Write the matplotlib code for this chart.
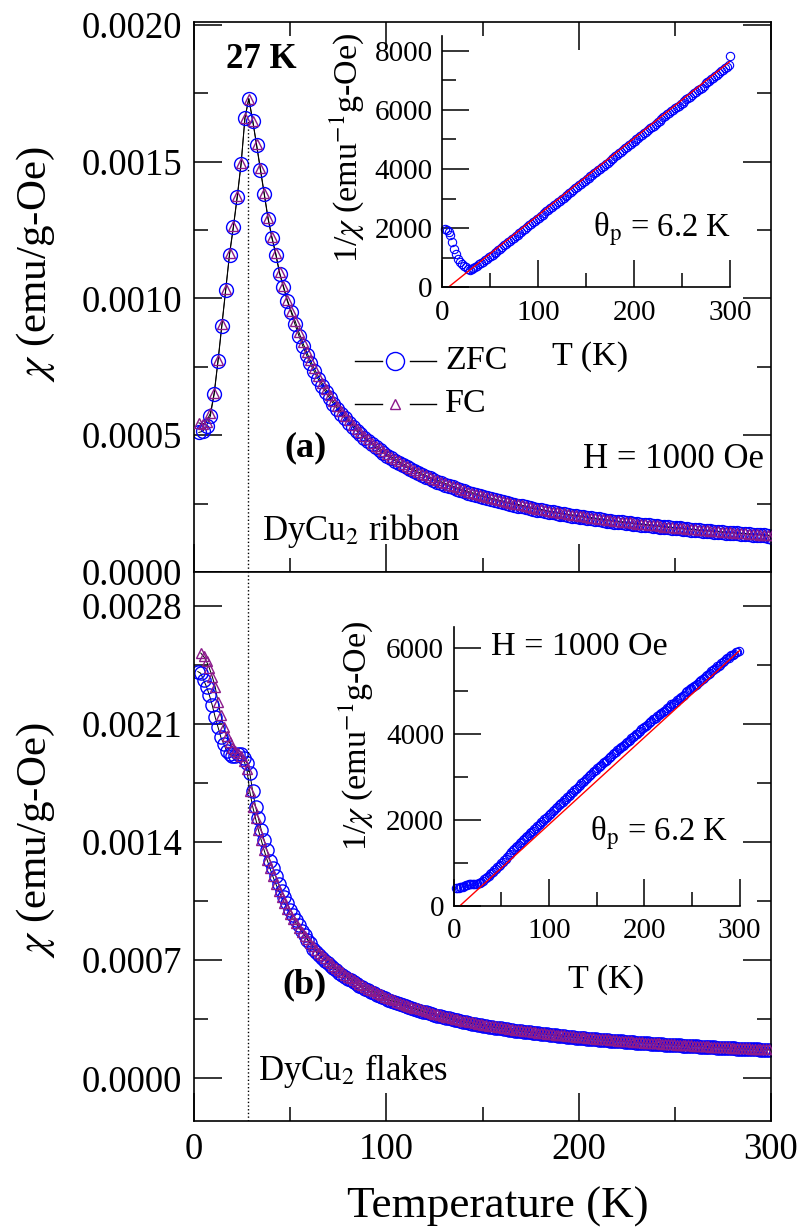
import numpy as np
import matplotlib
matplotlib.use("Agg")
import matplotlib.pyplot as plt
from matplotlib.lines import Line2D
from matplotlib.ticker import MultipleLocator, FormatStrFormatter

plt.rcParams.update({
    "font.family": "Liberation Serif",
    "mathtext.fontset": "stix",
})

# ---------------- data (chi in units of 1e-4 emu/g-Oe) ----------------
# (a) ribbon, T = 2.5 ... 300.5 K, step 2 K
T_a = np.arange(2.5, 301.0, 2.0)
chi_zfc_a = [
    5.10, 5.14, 5.34, 5.70, 6.50, 7.70, 9.00, 10.30, 11.60, 12.60,
    13.70, 14.90, 16.60, 17.30, 16.50, 15.60, 14.70, 13.80, 12.90, 12.20,
    11.60, 10.90, 10.40, 9.90, 9.50,
    9.05, 8.64, 8.27, 7.93, 7.62, 7.33, 7.06, 6.81, 6.57, 6.36,
    6.15, 5.96, 5.78, 5.61, 5.46, 5.31, 5.16, 5.03, 4.90, 4.78,
    4.66, 4.55, 4.45, 4.35, 4.25, 4.16, 4.07, 3.99, 3.90, 3.83,
    3.75, 3.68, 3.61, 3.54, 3.48, 3.42, 3.36, 3.30, 3.25, 3.19,
    3.14, 3.09, 3.04, 2.99, 2.95, 2.90, 2.86, 2.82, 2.78, 2.74,
    2.70, 2.66, 2.63, 2.59, 2.56, 2.52, 2.49, 2.46, 2.43, 2.40,
    2.37, 2.34, 2.31, 2.28, 2.26, 2.23, 2.20, 2.18, 2.15, 2.13,
    2.11, 2.08, 2.06, 2.04, 2.02, 2.00, 1.98, 1.96, 1.94, 1.92,
    1.90, 1.88, 1.86, 1.84, 1.83, 1.81, 1.79, 1.78, 1.76, 1.74,
    1.73, 1.71, 1.70, 1.68, 1.67, 1.65, 1.64, 1.63, 1.61, 1.60,
    1.59, 1.57, 1.56, 1.55, 1.54, 1.52, 1.51, 1.50, 1.49, 1.48,
    1.47, 1.45, 1.44, 1.43, 1.42, 1.41, 1.40, 1.39, 1.38, 1.37,
    1.36, 1.35, 1.34, 1.33, 1.28,
]
chi_fc_a = [
    5.45, 5.40, 5.50, 5.80, 6.55, 7.75, 9.05, 10.35, 11.65, 12.65,
    13.75, 14.95, 16.60, 17.30, 16.50, 15.65, 14.75, 13.85, 12.95, 12.25,
    11.65, 10.95, 10.45, 9.95, 9.55,
    9.19, 8.77, 8.39, 8.05, 7.73, 7.44, 7.17, 6.91, 6.67, 6.46,
    6.24, 6.05, 5.87, 5.69, 5.54, 5.39, 5.24, 5.11, 4.97, 4.85,
    4.73, 4.62, 4.52, 4.42, 4.31, 4.22, 4.13, 4.05, 3.96, 3.89,
    3.81, 3.74, 3.66, 3.59, 3.53, 3.47, 3.41, 3.35, 3.30, 3.24,
    3.19, 3.14, 3.09, 3.03, 2.99, 2.94, 2.90, 2.86, 2.82, 2.78,
    2.74, 2.70, 2.67, 2.63, 2.60, 2.56, 2.53, 2.50, 2.47, 2.44,
    2.41, 2.38, 2.34, 2.31, 2.29, 2.26, 2.23, 2.21, 2.18, 2.16,
    2.14, 2.11, 2.09, 2.07, 2.05, 2.03, 2.01, 1.99, 1.97, 1.95,
    1.93, 1.91, 1.89, 1.87, 1.86, 1.84, 1.82, 1.81, 1.79, 1.77,
    1.76, 1.74, 1.73, 1.71, 1.70, 1.68, 1.66, 1.65, 1.63, 1.62,
    1.61, 1.59, 1.58, 1.57, 1.56, 1.54, 1.53, 1.52, 1.51, 1.50,
    1.49, 1.47, 1.46, 1.45, 1.44, 1.43, 1.42, 1.41, 1.40, 1.39,
    1.38, 1.37, 1.36, 1.35, 1.34,
]

# (b) flakes, ZFC T = 2.0 ... 299 K step 1.5 K ; FC T = 3.5 ... 299 K
T_zfc_b = np.arange(2.0, 299.5, 1.5)
T_fc_b = np.arange(3.5, 299.5, 1.5)
chi_zfc_b = [
    24.1, 24.0, 23.6, 23.2, 22.7, 22.1, 21.4, 20.8, 20.2, 19.8,
    19.4, 19.2, 19.1, 19.1, 19.2, 19.2, 19.0, 18.7, 18.1, 17.0,
    16.1, 15.4, 14.7, 14.1, 13.5,
    12.90, 12.45, 11.96, 11.50, 11.10, 10.72, 10.36, 10.00, 9.68, 9.36,
    9.07, 8.75, 8.48, 8.22, 7.99,
    7.66, 7.48, 7.30, 7.13,
    6.98, 6.82, 6.67, 6.54, 6.40, 6.26, 6.14, 6.03, 5.91, 5.80,
    5.69, 5.59, 5.49, 5.39, 5.30, 5.21, 5.13, 5.05, 4.96, 4.88,
    4.81, 4.73, 4.66, 4.60, 4.53, 4.46, 4.40, 4.33, 4.27, 4.21,
    4.17, 4.11, 4.06, 4.00, 3.95, 3.90, 3.85, 3.80, 3.75, 3.71,
    3.67, 3.63, 3.59, 3.55, 3.50, 3.46, 3.43, 3.39, 3.35, 3.31,
    3.28, 3.24, 3.21, 3.18, 3.15, 3.12, 3.09, 3.06, 3.04, 3.01,
    2.98, 2.96, 2.93, 2.90, 2.88, 2.86, 2.83, 2.81, 2.78, 2.76,
    2.74, 2.72, 2.70, 2.68, 2.66, 2.64, 2.62, 2.60, 2.58, 2.56,
    2.54, 2.52, 2.50, 2.49, 2.47, 2.45, 2.43, 2.41, 2.40, 2.38,
    2.37, 2.35, 2.33, 2.32, 2.30, 2.29, 2.28, 2.26, 2.25, 2.23,
    2.22, 2.21, 2.20, 2.19, 2.17, 2.16, 2.15, 2.13, 2.12, 2.11,
    2.10, 2.08, 2.07, 2.06, 2.05, 2.04, 2.03, 2.01, 2.00, 1.99,
    1.98, 1.97, 1.96, 1.95, 1.94, 1.93, 1.92, 1.91, 1.90, 1.89,
    1.88, 1.87, 1.86, 1.85, 1.84, 1.83, 1.82, 1.81, 1.80, 1.79,
    1.79, 1.78, 1.77, 1.76, 1.75, 1.74, 1.73, 1.73, 1.72, 1.71,
    1.71, 1.70, 1.69, 1.69, 1.68,
]
chi_fc_b = [
    25.2, 25.0, 24.7, 24.3, 23.8, 23.2, 22.3, 21.5, 20.8, 20.3,
    19.9, 19.6, 19.4, 19.3, 19.1, 18.8, 18.3, 17.0, 16.1, 15.4,
    14.7, 14.1, 13.5,
    12.95, 12.44, 11.96, 11.53, 11.12, 10.74, 10.40, 10.06, 9.75, 9.46,
    9.18, 8.93, 8.68, 8.45, 8.23, 8.02, 7.82, 7.63, 7.45, 7.28,
    7.12, 6.96, 6.81, 6.67, 6.53, 6.39, 6.27, 6.15, 6.03, 5.92,
    5.81, 5.70, 5.60, 5.50, 5.41, 5.32, 5.23, 5.15, 5.06, 4.98,
    4.91, 4.83, 4.76, 4.69, 4.62, 4.55, 4.49, 4.42, 4.36, 4.30,
    4.25, 4.19, 4.14, 4.08, 4.03, 3.98, 3.93, 3.88, 3.83, 3.79,
    3.74, 3.70, 3.66, 3.62, 3.57, 3.53, 3.50, 3.46, 3.42, 3.38,
    3.35, 3.31, 3.28, 3.24, 3.21, 3.18, 3.15, 3.12, 3.10, 3.07,
    3.04, 3.02, 2.99, 2.96, 2.94, 2.92, 2.89, 2.87, 2.84, 2.82,
    2.80, 2.78, 2.76, 2.73, 2.71, 2.69, 2.67, 2.65, 2.63, 2.61,
    2.59, 2.57, 2.55, 2.54, 2.52, 2.50, 2.48, 2.46, 2.45, 2.43,
    2.42, 2.40, 2.38, 2.37, 2.35, 2.34, 2.33, 2.31, 2.30, 2.28,
    2.27, 2.25, 2.24, 2.23, 2.21, 2.20, 2.19, 2.17, 2.16, 2.15,
    2.14, 2.12, 2.11, 2.10, 2.09, 2.08, 2.07, 2.05, 2.04, 2.03,
    2.02, 2.01, 2.00, 1.99, 1.98, 1.97, 1.96, 1.95, 1.94, 1.93,
    1.92, 1.91, 1.90, 1.89, 1.88, 1.87, 1.86, 1.85, 1.84, 1.83,
    1.83, 1.82, 1.81, 1.80, 1.79, 1.78, 1.77, 1.77, 1.76, 1.75,
    1.74, 1.73, 1.73, 1.72, 1.71,
]

# Curie-Weiss fit lines shown in the insets (endpoints)
fit_T = [6.2, 300.0]
fit_inv_a = [0.0, 7640.0]
fit_inv_b = [0.0, 5950.0]
T_transition = 28.0

assert len(T_a) == len(chi_zfc_a) == len(chi_fc_a)
assert len(T_zfc_b) == len(chi_zfc_b)
assert len(T_fc_b) == len(chi_fc_b)

zfc_a = np.array(chi_zfc_a) * 1e-4
fc_a = np.array(chi_fc_a) * 1e-4
zfc_b = np.array(chi_zfc_b) * 1e-4
fc_b = np.array(chi_fc_b) * 1e-4

BLUE = "#0000ff"
PURPLE = "#8b1a8b"

W, H = 807, 1230
fig = plt.figure(figsize=(W / 100, H / 100), dpi=100)


def box(l, t, r, b):
    return [l / W, 1 - b / H, (r - l) / W, (b - t) / H]


def fx(x):
    return x / W


def fy(y):
    return 1 - y / H


ax1 = fig.add_axes(box(194, 22, 771, 572))
ax2 = fig.add_axes(box(194, 572, 771, 1120.5))

# main panels
for ax, Tz, z, Tf, f, msc, mst in (
    (ax1, T_a, zfc_a, T_a, fc_a, 10, 6.5),
    (ax2, T_zfc_b, zfc_b, T_fc_b, fc_b, 9.5, 7),
):
    ax.plot(Tz, z, color="k", lw=0.7, zorder=1)
    ax.plot(Tf, f, color="k", lw=0.7, zorder=1)
    ax.plot(Tz, z, ls="none", marker="o", ms=msc, mfc="none", mec=BLUE, mew=1.0, zorder=2)
    ax.plot(Tf, f, ls="none", marker="^", ms=mst, mfc="none", mec=PURPLE, mew=1.0, zorder=3)

ax1.set_xlim(0, 300)
ax2.set_xlim(0, 300)
ax1.set_ylim(0, 0.00201)
ax2.set_ylim(-0.00025, 0.0030)

ax1.axvline(T_transition, ymin=0, ymax=0.00165 / 0.00201, ls=":", color="k", lw=1.0)
ax2.axvline(T_transition, ls=":", color="k", lw=1.0)

for ax in (ax1, ax2):
    ax.xaxis.set_major_locator(MultipleLocator(100))
    ax.xaxis.set_minor_locator(MultipleLocator(50))
    ax.yaxis.set_major_formatter(FormatStrFormatter("%.4f"))
    ax.tick_params(which="both", direction="in", width=1.1, labelsize=26.5, pad=8.5)
    ax.tick_params(which="major", length=20)
    ax.tick_params(which="minor", length=10)
    for s in ax.spines.values():
        s.set_linewidth(1.2)

ax1.yaxis.set_major_locator(MultipleLocator(0.0005))
ax1.yaxis.set_minor_locator(MultipleLocator(0.00025))
ax2.yaxis.set_major_locator(MultipleLocator(0.0007))
ax2.yaxis.set_minor_locator(MultipleLocator(0.00035))
ax1.tick_params(which="both", top=True, right=True, bottom=True, labelbottom=False)
ax2.tick_params(which="both", top=False, right=True)

# insets
in1 = fig.add_axes(box(442.3, 36, 730, 287.3))
in2 = fig.add_axes(box(453.8, 627, 739.5, 906))
for ax, T, z, finv, ymax in ((in1, T_a, zfc_a, fit_inv_a, 8500), (in2, T_zfc_b, zfc_b, fit_inv_b, 6500)):
    ax.patch.set_alpha(0)
    ax.plot(T, 1.0 / z, ls="none", marker="o", ms=6, mfc="none", mec=BLUE, mew=0.8, clip_on=False)
    ax.plot(fit_T, finv, color="red", lw=1.0)
    ax.set_xlim(0, 300)
    ax.set_ylim(0, ymax)
    ax.spines["top"].set_visible(False)
    ax.spines["right"].set_visible(False)
    for s in ("left", "bottom"):
        ax.spines[s].set_linewidth(1.2)
    ax.xaxis.set_major_locator(MultipleLocator(100))
    ax.xaxis.set_minor_locator(MultipleLocator(50))
    ax.yaxis.set_major_locator(MultipleLocator(2000))
    ax.yaxis.set_minor_locator(MultipleLocator(1000))
    ax.tick_params(which="both", direction="in", width=1.1, labelsize=21)
    ax.tick_params(which="major", length=19.5)
    ax.tick_params(which="minor", length=10)
    ax.tick_params(axis="y", pad=7)
    ax.tick_params(axis="x", pad=9)

# axis labels
CHI = r"$\chi$"
fig.text(fx(36), fy(264), CHI + " (emu/g-Oe)", rotation=90, ha="center", va="center", fontsize=31)
fig.text(fx(36), fy(840), CHI + " (emu/g-Oe)", rotation=90, ha="center", va="center", fontsize=31)
fig.text(fx(498), fy(1207), "Temperature (K)", ha="center", va="center", fontsize=32.5)
fig.text(fx(347), fy(148), r"1/$\chi$ (emu$^{-1}$g-Oe)", rotation=90, ha="center", va="center", fontsize=24.5)
fig.text(fx(356), fy(736), r"1/$\chi$ (emu$^{-1}$g-Oe)", rotation=90, ha="center", va="center", fontsize=24.5)
fig.text(fx(590), fy(357), "T (K)", ha="center", va="center", fontsize=24.5)
fig.text(fx(606), fy(980), "T (K)", ha="center", va="center", fontsize=24.5)

# annotations
fig.text(fx(261.5), fy(60), "27 K", ha="center", va="center", fontsize=25, fontweight="bold")
fig.text(fx(305), fy(448), "(a)", ha="center", va="center", fontsize=26, fontweight="bold")
fig.text(fx(304), fy(985), "(b)", ha="center", va="center", fontsize=26, fontweight="bold")
fig.text(fx(764), fy(460), "H = 1000 Oe", ha="right", va="center", fontsize=25)
fig.text(fx(491), fy(647), "H = 1000 Oe", ha="left", va="center", fontsize=24.5)
fig.text(fx(261.7), fy(540), r"DyCu$_2$ ribbon", ha="left", va="baseline", fontsize=25)
fig.text(fx(257.5), fy(1080), r"DyCu$_2$ flakes", ha="left", va="baseline", fontsize=25)
fig.text(fx(593), fy(237), r"θ$_\mathrm{p}$ = 6.2 K", ha="left", va="baseline", fontsize=23.5)
fig.text(fx(590), fy(841), r"θ$_\mathrm{p}$ = 6.2 K", ha="left", va="baseline", fontsize=23.5)

# legend (drawn by hand: line - marker - line)
for yrow, mk, ms, col, lab in ((361, "o", 13, BLUE, "ZFC"), (404, "^", 7.5, PURPLE, "FC")):
    fig.add_artist(Line2D([fx(355), fx(381.7)], [fy(yrow)] * 2, transform=fig.transFigure, color="k", lw=1.0))
    fig.add_artist(Line2D([fx(410), fx(436)], [fy(yrow)] * 2, transform=fig.transFigure, color="k", lw=1.0))
    fig.add_artist(Line2D([fx(395)], [fy(yrow)], transform=fig.transFigure, ls="none", marker=mk,
                          ms=ms, mfc="none", mec=col, mew=1.0))
    fig.text(fx(445), fy(yrow), lab, ha="left", va="center", fontsize=24.5)

fig.savefig("out.png", dpi=100)
